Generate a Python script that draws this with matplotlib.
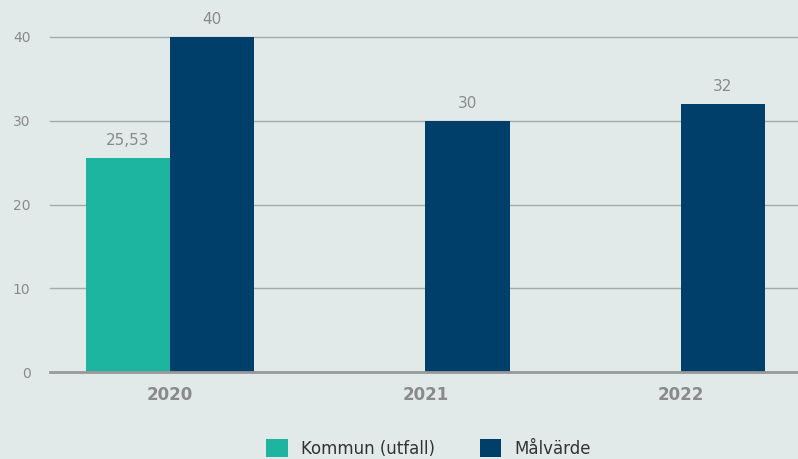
import numpy as np
import matplotlib.pyplot as plt

years = ['2020', '2021', '2022']
kommun = [25.53, np.nan, np.nan]
malvarde = [40, 30, 32]
kommun_labels = ['25,53', '', '']
malvarde_labels = ['40', '30', '32']
yticks = [0, 10, 20, 30, 40]

bg = '#e1eae8'
teal = '#1db5a0'
navy = '#003f6a'
gray = '#8a8a8a'

fig = plt.figure(figsize=(7.98, 4.59), dpi=100, facecolor=bg)
ax = fig.add_axes([50 / 798, 87 / 459, 748 / 798, 335 / 459], facecolor=bg)

x = np.arange(len(years))
w = 0.33
b1 = ax.bar(x - w / 2, kommun, w, color=teal, label='Kommun (utfall)', zorder=3)
b2 = ax.bar(x + w / 2, malvarde, w, color=navy, label='Målvärde', zorder=3)

for rect, lab in zip(b1, kommun_labels):
    if lab:
        ax.annotate(lab, (rect.get_x() + rect.get_width() / 2, rect.get_height()),
                    xytext=(0, 7), textcoords='offset points', ha='center', va='bottom',
                    fontsize=11, color=gray, annotation_clip=False)
for rect, lab in zip(b2, malvarde_labels):
    ax.annotate(lab, (rect.get_x() + rect.get_width() / 2, rect.get_height()),
                xytext=(0, 7), textcoords='offset points', ha='center', va='bottom',
                fontsize=11, color=gray, annotation_clip=False)

ax.set_xlim(-0.47, 2.46)
ax.set_ylim(0, 40)
for y in yticks[1:]:
    ax.axhline(y, color='#a3aaaa', lw=1, zorder=1, clip_on=False)
ax.axhline(0, color='#999999', lw=2, zorder=4, clip_on=False)

for s in ax.spines.values():
    s.set_visible(False)
ax.set_yticks(yticks)
ax.set_yticklabels([str(t) for t in yticks], fontsize=10, color=gray)
ax.tick_params(axis='y', length=0, pad=14)
ax.set_xticks(x)
ax.set_xticklabels(years, fontsize=12, fontweight='bold', color=gray)
ax.tick_params(axis='x', length=0, pad=10)

leg = fig.legend(loc='lower center', bbox_to_anchor=(0.537, -0.03), ncol=2, frameon=False,
                 fontsize=12, handlelength=1.3, handleheight=1.3, columnspacing=2.7,
                 handletextpad=0.78)
for t in leg.get_texts():
    t.set_color('#333333')

fig.savefig('out.png', dpi=100, facecolor=bg)
